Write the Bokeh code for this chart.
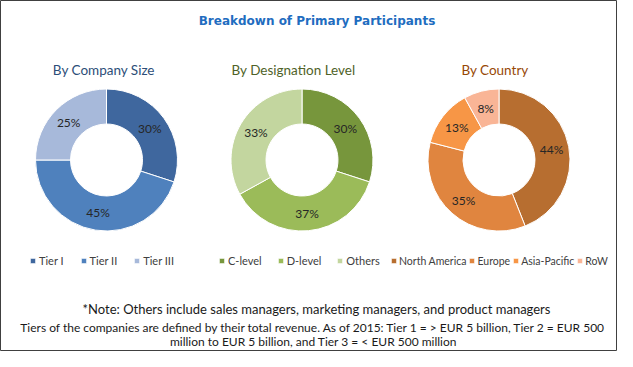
import numpy as np
from bokeh.plotting import figure
from bokeh.models import Range1d, Legend, LegendItem, ColumnDataSource
from bokeh.core.properties import value
from bokeh.embed import file_html
from bokeh.resources import INLINE

# ---------------- data ----------------
title = "Breakdown of Primary Participants"

size_labels = ["Tier I", "Tier II", "Tier III"]
size_values = [30, 45, 25]
size_colors = ["#3F679E", "#4F81BD", "#A7B9DA"]

desig_labels = ["C-level", "D-level", "Others"]
desig_values = [30, 37, 33]
desig_colors = ["#77963C", "#9BBB59", "#C3D69F"]

country_labels = ["North America", "Europe", "Asia-Pacific", "RoW"]
country_values = [44, 35, 13, 8]
country_colors = ["#B76E30", "#E0853F", "#F79646", "#F9B596"]

subtitles = ["By Company Size", "By Designation Level", "By Country"]
subtitle_colors = ["#2C4E78", "#4F6228", "#974806"]

notes = [
    "*Note: Others include sales managers, marketing managers, and product managers",
    "Tiers of the companies are defined by their total revenue. As of 2015: Tier 1 = > EUR 5 billion, Tier 2 = EUR 500",
    "million to EUR 5 billion, and Tier 3 = < EUR 500 million",
]

# ---------------- layout (pixel coords from top-left, y measured downward) ----------------
W, H = 617, 351
def Y(v):  # convert downward pixel y to data y
    return H - v

p = figure(width=W, height=H, output_backend="svg", toolbar_location=None,
           x_range=Range1d(0, W), y_range=Range1d(0, H),
           min_border=0, outline_line_color="#404040", outline_line_width=1)
p.axis.visible = False
p.grid.visible = False
p.background_fill_color = "white"
p.border_fill_color = "white"

R_OUT, R_IN = 71, 36
centers_x = [106, 301.5, 498.5]
center_y = 159.5
label_font = "Lato"

charts = [
    (size_labels, size_values, size_colors),
    (desig_labels, desig_values, desig_colors),
    (country_labels, country_values, country_colors),
]
legend_locs = [(29, 84.5), (218, 84.5), (390, 84.5)]
legend_spacing = [16, 15, 2]
legend_standoff = [3, 3, 2]
legend_fs = ["11px", "11px", "10.5px"]

for k, (labels, vals, cols) in enumerate(charts):
    v = np.array(vals, dtype=float)
    frac = v / v.sum()
    cum_end = np.cumsum(frac)
    cum_start = cum_end - frac
    start = np.pi / 2 - 2 * np.pi * cum_end
    end = np.pi / 2 - 2 * np.pi * cum_start
    mid = (start + end) / 2
    rm = (R_IN + R_OUT) / 2
    src = ColumnDataSource(dict(
        start=start, end=end, color=cols, label=labels,
        tx=centers_x[k] + rm * np.cos(mid),
        ty=Y(center_y) + rm * np.sin(mid),
        pct=[f"{int(x)}%" for x in vals],
    ))
    r = p.annular_wedge(x=centers_x[k], y=Y(center_y), inner_radius=R_IN, outer_radius=R_OUT,
                        start_angle="start", end_angle="end", fill_color="color",
                        line_color="white", line_width=1, source=src)
    p.text(x="tx", y="ty", text="pct", source=src, text_align="center",
           text_baseline="middle", text_font=value(label_font), text_font_size="12px",
           text_color="#262626")
    items = [LegendItem(label=labels[i], renderers=[r], index=i) for i in range(len(labels))]
    leg = Legend(items=items, orientation="horizontal", location=legend_locs[k],
                 padding=0, margin=0, spacing=legend_spacing[k], glyph_width=7,
                 glyph_height=7, label_standoff=legend_standoff[k], label_height=12,
                 label_text_font=label_font, label_text_font_size=legend_fs[k],
                 label_text_color="#404040", border_line_color=None,
                 background_fill_alpha=0)
    p.add_layout(leg)

# subtitles
sub_x = [103.5, 293, 494.5]
p.text(x=sub_x, y=[Y(69)] * 3, text=subtitles, text_align="center", text_baseline="middle",
       text_font=value(label_font), text_font_size="13.5px", text_color=subtitle_colors)

# title
p.text(x=[316.5], y=[Y(20)], text=[title], text_align="center", text_baseline="middle",
       text_font=value("DejaVu Sans"), text_font_style="bold", text_font_size="12px",
       text_color="#1F6DC0")

# notes
p.text(x=[316], y=[Y(308)], text=[notes[0]], text_align="center",
       text_baseline="middle", text_font=value(label_font), text_font_size="13px",
       text_color="#1A1A1A")
p.text(x=[313] * 2, y=[Y(327), Y(341)], text=notes[1:], text_align="center",
       text_baseline="middle", text_font=value(label_font), text_font_size="12px",
       text_color="#1A1A1A")

open("out.html", "w").write(file_html(p, INLINE))
